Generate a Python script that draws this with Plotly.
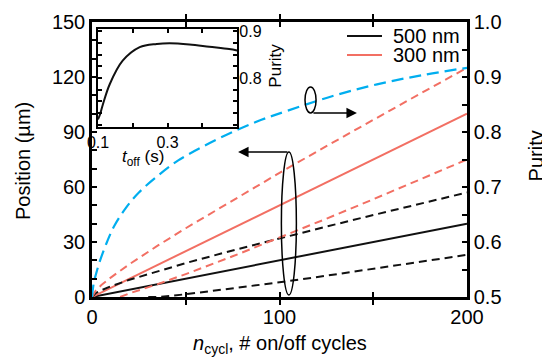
import plotly.graph_objects as go

# ---------------- data ----------------
n_cycles = [0, 2, 5, 10, 20, 35, 50, 75, 100, 125, 150, 175, 200]
pos_500_mean = [0, 0.4, 1, 2, 4, 7, 10, 15, 20, 25, 30, 35, 40]
pos_500_upper = [0, 2.1, 3.7, 5.8, 9.4, 14.1, 18.5, 25.4, 32, 38.4, 44.7, 50.9, 57]
n_500_lower = [30, 36, 50, 75, 100, 125, 150, 175, 200]
pos_500_lower = [0, 0, 1.5, 4.6, 8, 11.6, 15.3, 19.1, 23]

pos_300_mean = [0, 1, 2.5, 5, 10, 17.5, 25, 37.5, 50, 62.5, 75, 87.5, 100]
pos_300_upper = [0, 3.5, 6.5, 10.6, 17.9, 28, 37.5, 52.8, 67.7, 82.3, 96.7, 110.9, 125]
n_300_lower = [15, 20, 35, 50, 75, 100, 125, 150, 175, 200]
pos_300_lower = [0, 2, 7, 12.5, 22.2, 32.3, 42.7, 53.3, 64.1, 75]

n_purity = [0, 1, 2, 4, 8, 12, 18, 25, 35, 46, 60, 76, 90, 104, 128, 152, 176, 200]
purity_main = [0.5, 0.5267, 0.54, 0.5633, 0.6, 0.63, 0.6617, 0.69, 0.72, 0.7483,
               0.775, 0.8017, 0.8217, 0.8383, 0.865, 0.8867, 0.9033, 0.9167]

t_off = [0.1, 0.106, 0.114, 0.134, 0.171, 0.22, 0.269, 0.306, 0.363, 0.42, 0.477, 0.5]
purity_inset = [0.711, 0.722, 0.743, 0.787, 0.837, 0.866, 0.873, 0.8746, 0.872, 0.867, 0.862, 0.859]

legend_labels = ["500 nm", "300 nm"]

x_ticks = [0, 50, 100, 150, 200]
x_ticktext = ["0", "", "100", "", "200"]
y_ticks = list(range(0, 151, 10))
y_ticktext = [str(v) if v % 30 == 0 else "" for v in y_ticks]
y2_ticks = [0.5, 0.55, 0.6, 0.65, 0.7, 0.75, 0.8, 0.85, 0.9, 0.95, 1.0]
y2_ticktext = ["0.5", "", "0.6", "", "0.7", "", "0.8", "", "0.9", "", "1.0"]
ix_ticks = [0.1, 0.2, 0.3, 0.4, 0.5]
ix_ticktext = ["0.1", "", "0.3", "", ""]
iy_ticks = [0.7, 0.725, 0.75, 0.775, 0.8, 0.825, 0.85, 0.875, 0.9]
iy_ticktext = ["", "", "", "", "0.8", "", "", "", "0.9"]

BLACK = "#111111"
RED = "#F26F63"
BLUE = "#00AEEF"
FONT = "Liberation Sans, Arial, sans-serif"

fig = go.Figure()

fig.add_trace(go.Scatter(x=n_cycles, y=pos_500_mean, mode="lines", name=legend_labels[0],
                         showlegend=False, line=dict(color=BLACK, width=2)))
fig.add_trace(go.Scatter(x=n_cycles, y=pos_300_mean, mode="lines", name=legend_labels[1],
                         showlegend=False, line=dict(color=RED, width=2)))
fig.add_trace(go.Scatter(x=n_cycles, y=pos_500_upper, mode="lines", showlegend=False,
                         line=dict(color=BLACK, width=2, dash="8px,5px")))
fig.add_trace(go.Scatter(x=n_500_lower, y=pos_500_lower, mode="lines", showlegend=False,
                         line=dict(color=BLACK, width=2, dash="8px,5px")))
fig.add_trace(go.Scatter(x=n_cycles, y=pos_300_upper, mode="lines", showlegend=False,
                         line=dict(color=RED, width=2, dash="8px,5px")))
fig.add_trace(go.Scatter(x=n_300_lower, y=pos_300_lower, mode="lines", showlegend=False,
                         line=dict(color=RED, width=2, dash="8px,5px")))
fig.add_trace(go.Scatter(x=n_purity, y=purity_main, mode="lines", showlegend=False,
                         yaxis="y2", line=dict(color=BLUE, width=2.2, dash="12px,6px", shape="spline")))
fig.add_trace(go.Scatter(x=t_off, y=purity_inset, mode="lines", showlegend=False,
                         xaxis="x3", yaxis="y3", line=dict(color=BLACK, width=2, shape="spline")))

axis_common = dict(showline=True, linecolor="black", showgrid=False, zeroline=False,
                   ticks="inside", tickcolor="black", tickwidth=1.5, automargin=False)

# manual legend (line samples + labels)
legend_shapes = []
legend_annots = []
for i, (lab, col) in enumerate(zip(legend_labels, [BLACK, RED])):
    yy = 0.949 - i * 0.069
    legend_shapes.append(dict(type="line", xref="paper", yref="paper", x0=0.68, x1=0.7733,
                              y0=yy, y1=yy, line=dict(color=col, width=2)))
    legend_annots.append(dict(text=lab, xref="paper", yref="paper", x=0.797, y=yy,
                              xanchor="left", yanchor="middle", showarrow=False,
                              font=dict(size=20)))

fig.update_layout(
    width=550, height=358,
    # the page adds an 8px body margin, so the plot area is offset by 8px here
    margin=dict(l=84, r=91, t=14, b=69),
    plot_bgcolor="white", paper_bgcolor="white",
    font=dict(family=FONT, size=20, color="black"),
    showlegend=False,
    xaxis=dict(**axis_common, range=[0, 200], tickvals=x_ticks, ticktext=x_ticktext,
               ticklen=5, linewidth=2.5, mirror="allticks"),
    yaxis=dict(**axis_common, range=[0, 150], tickvals=y_ticks, ticktext=y_ticktext,
               ticklen=5, linewidth=2.5, mirror=True),
    yaxis2=dict(**axis_common, overlaying="y", side="right", range=[0.5, 1.0],
                tickvals=y2_ticks, ticktext=y2_ticktext, ticklen=5, linewidth=2.5),
    xaxis3=dict(**axis_common, domain=[0.016, 0.387], anchor="y3", range=[0.1, 0.5],
                tickvals=ix_ticks, ticktext=ix_ticktext, ticklen=4, linewidth=2,
                mirror="allticks", tickfont=dict(size=16)),
    yaxis3=dict(**axis_common, domain=[0.618, 0.9745], anchor="x3", side="right",
                range=[0.6946, 0.905], tickvals=iy_ticks, ticktext=iy_ticktext,
                ticklen=4, linewidth=2, mirror="allticks", tickfont=dict(size=16),
                ticklabelstandoff=-3),
    shapes=[
        dict(type="circle", xref="x", yref="y", x0=101, x1=109, y0=1.1, y1=79.1,
             line=dict(color="black", width=1.5)),
        dict(type="circle", xref="x", yref="y", x0=113.6, x1=119.5, y0=100.4, y1=114.6,
             line=dict(color="black", width=1.5)),
    ] + legend_shapes,
    annotations=[
        dict(x=77.9, y=79.1, ax=105, ay=79.1, xref="x", yref="y", axref="x", ayref="y",
             showarrow=True, arrowhead=2, arrowsize=1.4, arrowwidth=1.5, arrowcolor="black", text=""),
        dict(x=141.3, y=100.4, ax=117.3, ay=100.4, xref="x", yref="y", axref="x", ayref="y",
             showarrow=True, arrowhead=2, arrowsize=1.4, arrowwidth=1.5, arrowcolor="black", text=""),
        # axis titles
        dict(text="Position (µm)", xref="paper", yref="paper", x=-0.184, y=0.4945,
             textangle=-90, showarrow=False, xanchor="center", yanchor="middle", font=dict(size=20)),
        dict(text="Purity", xref="paper", yref="paper", x=1.185, y=0.5127,
             textangle=-90, showarrow=False, xanchor="center", yanchor="middle", font=dict(size=20)),
        dict(text="<i>n</i><sub>cycl</sub>, # on/off cycles", xref="paper", yref="paper",
             x=0.5, y=-0.1745, showarrow=False, xanchor="center", yanchor="middle", font=dict(size=20)),
        dict(text="<i>t</i><sub>off</sub> (s)", xref="paper", yref="paper", x=0.136, y=0.5055,
             showarrow=False, xanchor="center", yanchor="middle", font=dict(size=17)),
        dict(text="Purity", xref="paper", yref="paper", x=0.487, y=0.84, textangle=-90,
             showarrow=False, xanchor="center", yanchor="middle", font=dict(size=17)),
    ] + legend_annots,
)

fig.write_html("out.html")
